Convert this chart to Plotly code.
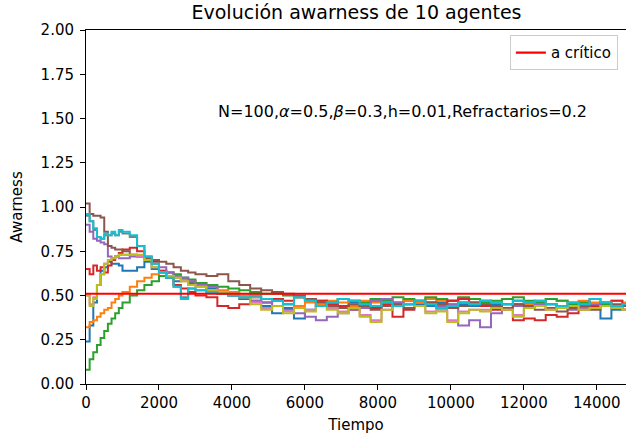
import plotly.graph_objects as go

# Time samples (shared by all agents)
tiempo = [0, 100, 200, 300, 400, 500, 600, 700, 800, 900, 1000, 1200, 1400, 1600, 1800,
          2000, 2200, 2400, 2600, 2800, 3000, 3300, 3600, 3900, 4200, 4500, 4800, 5100,
          5400, 5700, 6000, 6300, 6600, 6900, 7200, 7500, 7800, 8100, 8400, 8700, 9000,
          9300, 9600, 9900, 10200, 10500, 10800, 11100, 11400, 11700, 12000, 12300, 12600,
          12900, 13200, 13500, 13800, 14100, 14400, 14700, 14800]

agente_0 = [0.24, 0.33, 0.46, 0.56, 0.64, 0.66, 0.69, 0.68, 0.68, 0.67, 0.64, 0.64, 0.66, 0.69, 0.65,
            0.63, 0.60, 0.58, 0.60, 0.57, 0.56, 0.54, 0.52, 0.50, 0.48, 0.49, 0.44, 0.40, 0.43, 0.37,
            0.42, 0.44, 0.45, 0.43, 0.46, 0.44, 0.47, 0.45, 0.46, 0.47, 0.45, 0.44, 0.46, 0.47, 0.45,
            0.44, 0.46, 0.45, 0.43, 0.45, 0.44, 0.46, 0.45, 0.43, 0.44, 0.45, 0.43, 0.37, 0.42, 0.44, 0.44]
agente_1 = [0.32, 0.35, 0.36, 0.38, 0.40, 0.42, 0.43, 0.46, 0.48, 0.50, 0.52, 0.55, 0.58, 0.60, 0.62,
            0.64, 0.63, 0.61, 0.59, 0.58, 0.57, 0.55, 0.53, 0.52, 0.50, 0.49, 0.48, 0.47, 0.45, 0.44,
            0.46, 0.45, 0.47, 0.46, 0.44, 0.47, 0.46, 0.48, 0.45, 0.47, 0.46, 0.48, 0.47, 0.45, 0.46,
            0.48, 0.47, 0.46, 0.48, 0.47, 0.45, 0.46, 0.48, 0.47, 0.45, 0.47, 0.46, 0.45, 0.47, 0.46, 0.46]
agente_2 = [0.08, 0.14, 0.18, 0.22, 0.26, 0.30, 0.34, 0.37, 0.40, 0.43, 0.46, 0.50, 0.53, 0.56, 0.58,
            0.61, 0.63, 0.62, 0.60, 0.59, 0.57, 0.56, 0.55, 0.54, 0.53, 0.52, 0.51, 0.51, 0.50, 0.49,
            0.48, 0.47, 0.46, 0.48, 0.47, 0.46, 0.48, 0.47, 0.49, 0.48, 0.47, 0.49, 0.48, 0.47, 0.49,
            0.48, 0.46, 0.47, 0.48, 0.49, 0.47, 0.46, 0.48, 0.47, 0.45, 0.46, 0.44, 0.45, 0.43, 0.42, 0.42]
agente_3 = [0.65, 0.62, 0.67, 0.64, 0.66, 0.63, 0.67, 0.70, 0.72, 0.74, 0.76, 0.77, 0.75, 0.71, 0.69,
            0.64, 0.60, 0.56, 0.54, 0.52, 0.50, 0.49, 0.44, 0.43, 0.45, 0.47, 0.46, 0.48, 0.47, 0.49,
            0.48, 0.47, 0.45, 0.44, 0.42, 0.45, 0.43, 0.45, 0.38, 0.42, 0.44, 0.46, 0.45, 0.47, 0.48,
            0.46, 0.44, 0.42, 0.45, 0.36, 0.37, 0.36, 0.39, 0.38, 0.40, 0.42, 0.44, 0.46, 0.47, 0.45, 0.44]
agente_4 = [0.90, 0.86, 0.82, 0.81, 0.80, 0.79, 0.72, 0.71, 0.72, 0.71, 0.71, 0.72, 0.72, 0.71, 0.70,
            0.66, 0.63, 0.61, 0.60, 0.58, 0.56, 0.55, 0.52, 0.50, 0.49, 0.47, 0.46, 0.44, 0.42, 0.40,
            0.38, 0.36, 0.38, 0.40, 0.42, 0.43, 0.47, 0.48, 0.46, 0.45, 0.47, 0.46, 0.44, 0.45, 0.33,
            0.36, 0.32, 0.40, 0.42, 0.44, 0.46, 0.45, 0.43, 0.44, 0.42, 0.43, 0.45, 0.44, 0.43, 0.42, 0.43]
agente_5 = [1.02, 0.96, 0.95, 0.95, 0.94, 0.86, 0.78, 0.77, 0.76, 0.76, 0.75, 0.73, 0.72, 0.71, 0.70,
            0.69, 0.68, 0.66, 0.64, 0.63, 0.62, 0.61, 0.62, 0.58, 0.56, 0.54, 0.53, 0.52, 0.51, 0.50,
            0.48, 0.46, 0.44, 0.43, 0.45, 0.44, 0.42, 0.44, 0.45, 0.43, 0.44, 0.46, 0.45, 0.43, 0.44,
            0.46, 0.45, 0.44, 0.43, 0.45, 0.44, 0.42, 0.43, 0.41, 0.43, 0.44, 0.42, 0.44, 0.45, 0.44, 0.45]
agente_6 = [0.50, 0.45, 0.49, 0.56, 0.62, 0.68, 0.70, 0.71, 0.72, 0.73, 0.73, 0.73, 0.72, 0.70, 0.66,
            0.63, 0.61, 0.60, 0.58, 0.56, 0.55, 0.53, 0.52, 0.51, 0.49, 0.46, 0.43, 0.44, 0.41, 0.43,
            0.42, 0.44, 0.43, 0.41, 0.43, 0.39, 0.36, 0.42, 0.44, 0.45, 0.44, 0.41, 0.42, 0.36, 0.41,
            0.42, 0.42, 0.43, 0.42, 0.39, 0.43, 0.44, 0.42, 0.43, 0.44, 0.42, 0.43, 0.44, 0.43, 0.42, 0.43]
agente_7 = [0.95, 0.92, 0.87, 0.83, 0.82, 0.84, 0.84, 0.85, 0.84, 0.86, 0.85, 0.83, 0.78, 0.72, 0.68,
            0.63, 0.60, 0.55, 0.49, 0.54, 0.53, 0.52, 0.51, 0.50, 0.49, 0.50, 0.48, 0.47, 0.45, 0.49,
            0.47, 0.44, 0.46, 0.48, 0.47, 0.45, 0.44, 0.46, 0.44, 0.45, 0.47, 0.45, 0.43, 0.44, 0.46,
            0.45, 0.47, 0.46, 0.45, 0.47, 0.46, 0.47, 0.45, 0.44, 0.46, 0.45, 0.48, 0.46, 0.44, 0.45, 0.45]
agente_8 = [0.50, 0.44, 0.48, 0.56, 0.62, 0.68, 0.70, 0.71, 0.72, 0.73, 0.73, 0.73, 0.73, 0.70, 0.66,
            0.63, 0.61, 0.60, 0.58, 0.56, 0.55, 0.53, 0.52, 0.51, 0.49, 0.45, 0.42, 0.44, 0.40, 0.43,
            0.41, 0.44, 0.42, 0.40, 0.43, 0.38, 0.35, 0.42, 0.44, 0.45, 0.44, 0.40, 0.41, 0.35, 0.40,
            0.42, 0.41, 0.43, 0.42, 0.38, 0.43, 0.44, 0.42, 0.43, 0.44, 0.42, 0.43, 0.44, 0.43, 0.42, 0.43]
agente_9 = [0.96, 0.92, 0.88, 0.83, 0.82, 0.85, 0.84, 0.86, 0.84, 0.87, 0.86, 0.84, 0.78, 0.72, 0.68,
            0.63, 0.60, 0.55, 0.48, 0.54, 0.53, 0.52, 0.51, 0.50, 0.49, 0.50, 0.48, 0.47, 0.45, 0.49,
            0.47, 0.44, 0.46, 0.48, 0.47, 0.45, 0.44, 0.46, 0.44, 0.45, 0.47, 0.45, 0.43, 0.44, 0.46,
            0.45, 0.47, 0.46, 0.45, 0.47, 0.46, 0.47, 0.45, 0.44, 0.46, 0.45, 0.48, 0.46, 0.44, 0.45, 0.45]

agentes = [agente_0, agente_1, agente_2, agente_3, agente_4,
           agente_5, agente_6, agente_7, agente_8, agente_9]
colores = ["#1f77b4", "#ff7f0e", "#2ca02c", "#d62728", "#9467bd",
           "#8c564b", "#e377c2", "#7f7f7f", "#bcbd22", "#17becf"]

x_ticks = [0, 2000, 4000, 6000, 8000, 10000, 12000, 14000]
x_tick_labels = ["0", "2000", "4000", "6000", "8000", "10000", "12000", "14000"]

a_critico = 0.51
x_max = 14800

fig = go.Figure()
for i, vals in enumerate(agentes):
    fig.add_trace(go.Scatter(x=tiempo, y=vals, mode="lines", line_shape="hv",
                             line=dict(color=colores[i], width=2), showlegend=False,
                             hoverinfo="skip"))

fig.add_trace(go.Scatter(x=[0, x_max], y=[a_critico, a_critico], mode="lines",
                         line=dict(color="#ff0000", width=2.2), name="a crítico"))

font_main = "DejaVu Sans, sans-serif"
fig.update_layout(
    width=626, height=440,
    margin=dict(l=86, r=0, t=30, b=56),
    plot_bgcolor="white", paper_bgcolor="white",
    font=dict(family=font_main, size=15, color="black"),
    title=dict(text="Evolución awarness de 10 agentes", x=0.5695, xanchor="center",
               y=0.972, yanchor="middle", font=dict(size=19, color="black")),
    legend=dict(x=0.985, y=0.985, xanchor="right", yanchor="top",
                bgcolor="rgba(255,255,255,0.8)", bordercolor="#cccccc", borderwidth=1,
                font=dict(size=15), itemwidth=30),
    xaxis=dict(range=[0, x_max], showgrid=False, zeroline=False, showline=True,
               linecolor="black", linewidth=1, mirror=True, ticks="outside", ticklen=5,
               tickcolor="black", tickvals=x_ticks, ticktext=x_tick_labels,
               tickfont=dict(size=15),
               title=dict(text="Tiempo", standoff=8, font=dict(size=15))),
    yaxis=dict(range=[0, 2], showgrid=False, zeroline=False, showline=True,
               linecolor="black", linewidth=1, ticks="outside", ticklen=5, tickcolor="black",
               dtick=0.25, tickformat=".2f", tickfont=dict(size=15), ticklabelstandoff=3,
               title=dict(text="Awarness", standoff=14, font=dict(size=15))),
)

fig.add_annotation(x=3550, y=1.54, xref="x", yref="y", xanchor="left", yanchor="middle",
                   text="N=100,<i>α</i>=0.5,<i>β</i>=0.3,h=0.01,Refractarios=0.2",
                   showarrow=False, font=dict(size=16, color="black"))

fig.write_html("out.html")
